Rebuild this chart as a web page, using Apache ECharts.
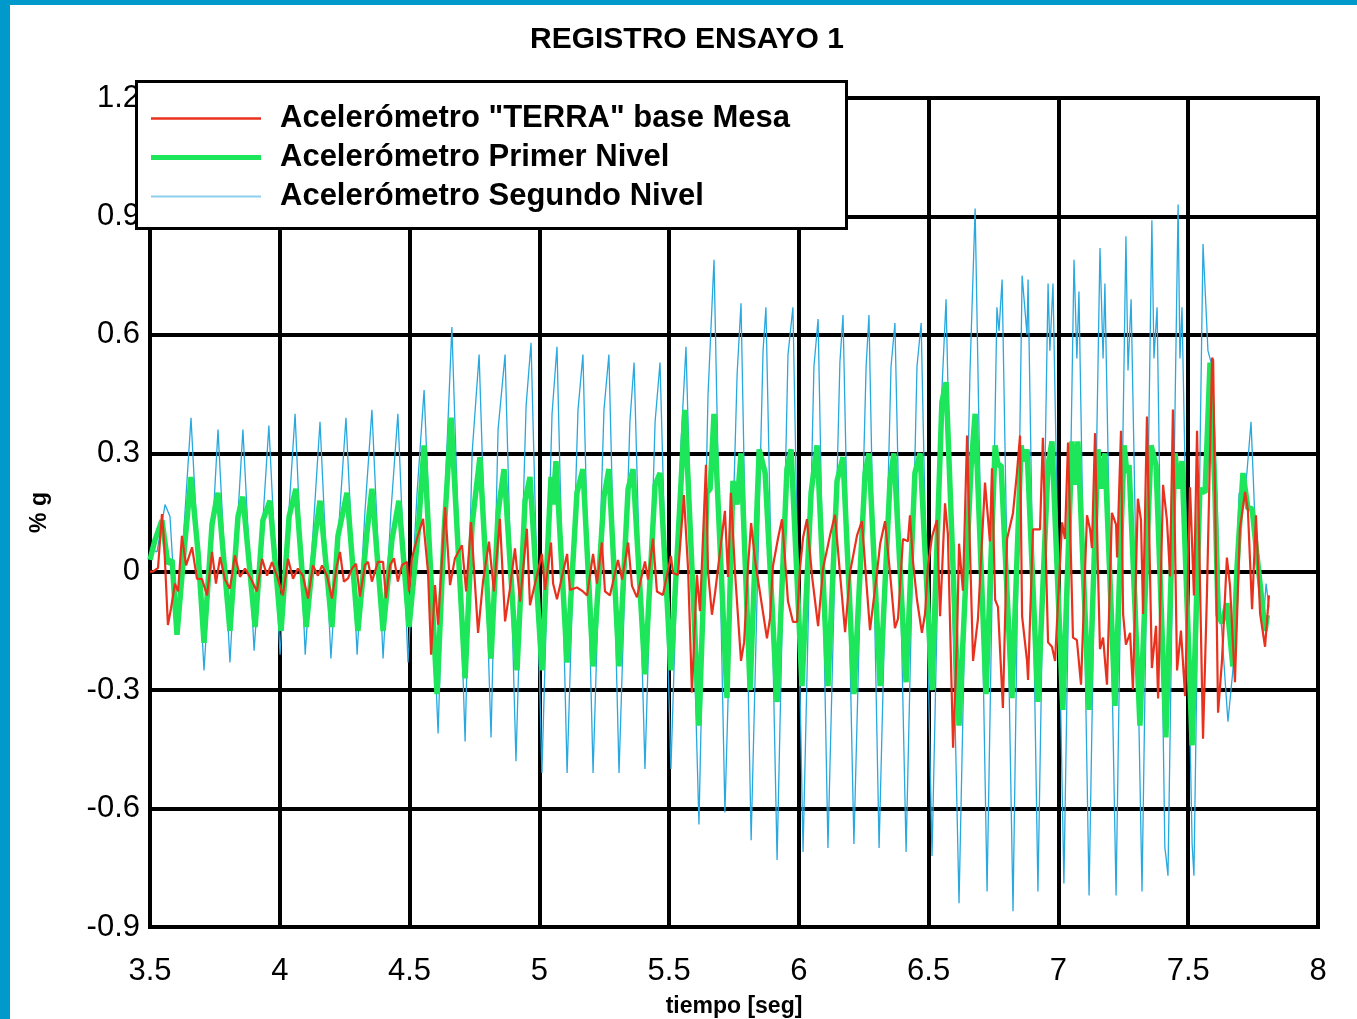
<!DOCTYPE html>
<html>
<head>
<meta charset="utf-8">
<script src="https://cdn.jsdelivr.net/npm/echarts@6/dist/echarts.min.js"></script>
<style>
html,body{margin:0;padding:0;background:#fff;}
#chart{width:1357px;height:1019px;}
</style>
</head>
<body>
<div id="chart"></div>
<script>
const seriesNames = ['Acelerómetro "TERRA" base Mesa', 'Acelerómetro Primer Nivel', 'Acelerómetro Segundo Nivel'];
const xTicks = { min: 3.5, max: 8, interval: 0.5 };
const yTicks = { min: -0.9, max: 1.2, interval: 0.3 };

// [tiempo (s), aceleración (%g)]
const terraBase = [
[3.500,0],[3.512,0],[3.531,0.01],[3.546,0.146],[3.554,0.08],[3.569,-0.135],[3.581,-0.093],[3.596,-0.03],[3.608,-0.05],
[3.623,0.091],[3.639,0.016],[3.662,0.062],[3.681,-0.018],[3.700,-0.018],[3.720,-0.06],[3.739,0.05],[3.754,-0.03],
[3.770,0.037],[3.789,-0.02],[3.808,-0.043],[3.827,0.041],[3.847,-0.013],[3.866,0.008],[3.889,-0.018],[3.912,-0.05],
[3.932,0.033],[3.951,-0.01],[3.970,0.024],[3.989,-0.01],[4.012,-0.06],[4.032,0.033],[4.051,-0.018],[4.070,0.008],
[4.089,-0.01],[4.109,-0.068],[4.128,0.016],[4.147,-0.01],[4.163,0.016],[4.182,-0.01],[4.201,-0.068],[4.220,0.016],
[4.232,0.05],[4.247,-0.025],[4.263,-0.017],[4.278,0.008],[4.294,0.02],[4.309,-0.063],[4.328,0.017],[4.340,0.025],
[4.355,-0.025],[4.378,0.025],[4.398,0.025],[4.409,-0.067],[4.425,0.017],[4.440,0.034],[4.455,-0.025],[4.471,0.017],
[4.490,0.025],[4.498,-0.05],[4.509,0.034],[4.529,0.084],[4.552,0.134],[4.571,0],[4.583,-0.21],[4.598,-0.034],
[4.610,-0.134],[4.637,0.164],[4.656,-0.034],[4.675,0.034],[4.702,0.067],[4.718,-0.05],[4.737,0.126],[4.764,-0.155],
[4.783,-0.025],[4.806,0.076],[4.825,-0.05],[4.848,0.134],[4.868,-0.126],[4.887,-0.042],[4.906,0.059],[4.926,-0.076],
[4.952,0.109],[4.964,-0.085],[5.010,0.045],[5.022,-0.046],[5.045,0.074],[5.053,-0.03],[5.068,-0.07],[5.107,0.045],
[5.118,-0.046],[5.145,-0.04],[5.168,-0.05],[5.184,-0.06],[5.207,0.045],[5.222,-0.03],[5.241,0.074],[5.253,-0.05],
[5.272,-0.06],[5.303,0.03],[5.319,-0.02],[5.342,0.074],[5.357,-0.036],[5.376,-0.065],[5.407,0.026],[5.419,-0.02],
[5.438,0.084],[5.453,-0.05],[5.476,-0.059],[5.507,0.04],[5.515,-0.003],[5.534,-0.008],[5.557,0.194],[5.573,0.007],
[5.588,-0.306],[5.607,-0.008],[5.619,-0.1],[5.642,0.271],[5.650,0],[5.665,-0.109],[5.677,-0.054],[5.715,0.154],
[5.727,-0.013],[5.738,0.2],[5.754,-0.002],[5.777,-0.226],[5.789,-0.179],[5.804,0.013],[5.816,0.123],[5.831,0.029],
[5.877,-0.169],[5.889,-0.117],[5.900,0.014],[5.920,0.086],[5.935,0.133],[5.947,0.029],[5.958,-0.075],[5.977,-0.127],
[5.993,-0.127],[6.004,0.008],[6.016,0.086],[6.031,0.133],[6.051,-0.013],[6.074,-0.138],[6.093,0.008],[6.120,0.092],
[6.139,0.144],[6.158,-0.002],[6.178,-0.153],[6.197,-0.002],[6.224,0.092],[6.243,0.128],[6.262,-0.044],[6.274,-0.148],
[6.301,-0.002],[6.313,0.07],[6.332,0.128],[6.351,-0.002],[6.370,-0.143],[6.382,-0.119],[6.401,0.083],[6.420,0.077],
[6.428,0.143],[6.440,0.024],[6.455,-0.071],[6.474,-0.155],[6.486,-0.107],[6.497,0.012],[6.513,0.089],[6.532,0.131],
[6.544,-0.113],[6.563,0.173],[6.574,0.095],[6.594,-0.446],[6.609,-0.179],[6.617,0.071],[6.632,-0.048],[6.648,0.345],
[6.659,0.06],[6.671,-0.226],[6.690,-0.119],[6.717,0.226],[6.736,0.077],[6.744,0.262],[6.756,-0.071],[6.767,-0.089],
[6.786,-0.345],[6.802,0.083],[6.825,0.149],[6.840,0.25],[6.852,0.345],[6.860,-0.113],[6.879,-0.226],[6.883,-0.274],
[6.902,0.107],[6.929,0.107],[6.940,0.339],[6.960,-0.179],[6.975,-0.19],[6.987,-0.226],[7.014,0.125],[7.025,0.083],
[7.037,0.327],[7.056,-0.167],[7.071,-0.173],[7.087,-0.286],[7.110,0.143],[7.122,0.107],[7.129,0.06],[7.141,0.351],
[7.152,0.012],[7.160,-0.196],[7.172,-0.167],[7.187,-0.286],[7.206,0.149],[7.222,0.119],[7.226,0.036],[7.241,0.357],
[7.249,-0.107],[7.260,-0.185],[7.276,-0.155],[7.287,-0.298],[7.306,0.185],[7.318,0.131],[7.326,-0.107],[7.341,0.393],
[7.360,-0.244],[7.376,-0.137],[7.384,-0.321],[7.403,0.22],[7.418,0.131],[7.430,-0.012],[7.441,0.411],[7.457,-0.25],
[7.472,-0.149],[7.488,-0.315],[7.507,0.214],[7.522,-0.06],[7.534,0.357],[7.557,-0.423],[7.572,-0.06],[7.592,0.542],
[7.596,0.536],[7.615,-0.357],[7.630,-0.226],[7.649,0.036],[7.661,-0.036],[7.680,-0.28],[7.699,0.107],[7.719,0.202],
[7.730,0.155],[7.746,-0.095],[7.761,0.143],[7.777,-0.107],[7.796,-0.19],[7.811,-0.06]
];

const primerNivel = [
[3.500,0.03],[3.519,0.08],[3.546,0.13],[3.569,0.02],[3.585,0.03],[3.604,-0.16],[3.631,0.05],[3.658,0.24],[3.685,0.05],[3.708,-0.18],
[3.739,0.12],[3.750,0.16],[3.762,0.20],[3.808,-0.15],
[3.839,0.14],[3.858,0.19],[3.905,-0.14],
[3.935,0.13],[3.962,0.18],[4.005,-0.15],
[4.036,0.14],[4.062,0.21],[4.102,-0.14],
[4.136,0.09],[4.155,0.18],[4.201,-0.14],
[4.224,0.09],[4.259,0.20],[4.301,-0.15],
[4.336,0.10],[4.355,0.21],[4.398,-0.15],
[4.432,0.08],[4.459,0.18],[4.498,-0.14],
[4.533,0.10],[4.556,0.32],[4.606,-0.31],
[4.633,0.10],[4.660,0.39],[4.714,-0.27],
[4.741,0.12],[4.771,0.29],[4.814,-0.22],
[4.841,0.15],[4.864,0.26],[4.914,-0.25],
[4.945,0.18],[4.964,0.24],[5.010,-0.25],
[5.045,0.24],[5.053,0.17],[5.064,0.28],[5.107,-0.23],
[5.145,0.20],[5.168,0.26],[5.207,-0.24],
[5.249,0.19],[5.268,0.26],[5.307,-0.24],
[5.342,0.21],[5.361,0.26],[5.407,-0.26],
[5.446,0.22],[5.465,0.25],[5.507,-0.25],
[5.561,0.41],[5.615,-0.39],
[5.646,0.20],[5.658,0.21],[5.673,0.40],[5.723,-0.32],
[5.746,0.23],[5.762,0.17],[5.777,0.30],[5.812,-0.30],
[5.847,0.31],[5.870,0.25],[5.916,-0.33],
[5.954,0.26],[5.970,0.31],[6.012,-0.29],
[6.047,0.20],[6.070,0.32],[6.112,-0.29],
[6.147,0.23],[6.170,0.29],[6.212,-0.31],
[6.255,0.25],[6.270,0.30],[6.313,-0.29],
[6.351,0.23],[6.366,0.30],[6.413,-0.28],
[6.447,0.25],[6.467,0.30],[6.513,-0.30],
[6.551,0.43],[6.567,0.48],[6.617,-0.39],
[6.663,0.26],[6.679,0.40],[6.721,-0.31],
[6.756,0.32],[6.767,0.27],[6.779,0.27],[6.821,-0.32],
[6.856,0.32],[6.867,0.28],[6.879,0.31],[6.921,-0.33],
[6.960,0.27],[6.975,0.33],[7.017,-0.35],
[7.052,0.33],[7.064,0.22],[7.075,0.33],[7.118,-0.35],
[7.152,0.31],[7.168,0.21],[7.179,0.30],[7.218,-0.34],
[7.253,0.32],[7.264,0.25],[7.272,0.27],[7.314,-0.39],
[7.357,0.32],[7.376,0.27],[7.414,-0.42],
[7.449,0.30],[7.464,0.21],[7.476,0.28],[7.515,-0.44],
[7.545,0.21],[7.565,0.20],[7.584,0.53],[7.603,0.20],[7.615,-0.11],[7.630,-0.13],[7.649,-0.08],[7.672,-0.24],
[7.688,0.01],[7.699,0.13],[7.711,0.25],[7.730,0.16],[7.746,0.16],[7.765,0.04],[7.785,-0.08],[7.796,-0.15],[7.805,-0.11]
];

const segundoNivel = [
[3.500,0.06],[3.527,0.05],[3.558,0.17],[3.577,0.14],[3.604,-0.16],[3.627,0.07],[3.658,0.39],[3.708,-0.25],
[3.739,0.08],[3.762,0.36],[3.808,-0.23],
[3.835,0.10],[3.858,0.36],[3.901,-0.20],
[3.932,0.10],[3.958,0.37],[4.001,-0.21],
[4.032,0.12],[4.059,0.40],[4.098,-0.21],
[4.128,0.10],[4.155,0.38],[4.197,-0.22],
[4.228,0.12],[4.255,0.39],[4.298,-0.21],
[4.328,0.15],[4.355,0.41],[4.398,-0.22],
[4.428,0.15],[4.455,0.40],[4.494,-0.23],
[4.529,0.20],[4.556,0.46],[4.610,-0.41],
[4.640,0.25],[4.663,0.62],[4.714,-0.43],
[4.741,0.30],[4.768,0.55],[4.814,-0.42],
[4.841,0.36],[4.868,0.55],[4.910,-0.48],
[4.949,0.42],[4.968,0.58],[5.010,-0.51],
[5.049,0.40],[5.068,0.57],[5.107,-0.51],
[5.149,0.41],[5.168,0.55],[5.207,-0.51],
[5.249,0.41],[5.268,0.55],[5.307,-0.51],
[5.349,0.38],[5.365,0.53],[5.407,-0.50],
[5.446,0.38],[5.465,0.53],[5.507,-0.50],
[5.546,0.33],[5.565,0.57],[5.615,-0.64],
[5.650,0.45],[5.673,0.79],[5.715,-0.61],
[5.762,0.50],[5.777,0.68],[5.816,-0.68],
[5.862,0.56],[5.873,0.67],[5.916,-0.73],
[5.958,0.55],[5.977,0.67],[6.016,-0.71],
[6.058,0.52],[6.074,0.64],[6.112,-0.70],
[6.158,0.53],[6.170,0.65],[6.212,-0.69],
[6.259,0.52],[6.270,0.65],[6.309,-0.70],
[6.355,0.52],[6.370,0.63],[6.413,-0.71],
[6.455,0.52],[6.471,0.63],[6.513,-0.72],
[6.551,0.46],[6.567,0.69],[6.617,-0.84],
[6.659,0.50],[6.679,0.92],[6.725,-0.81],
[6.763,0.67],[6.771,0.61],[6.783,0.74],[6.825,-0.86],
[6.860,0.75],[6.879,0.60],[6.883,0.74],[6.921,-0.81],
[6.960,0.73],[6.967,0.56],[6.979,0.73],[7.021,-0.79],
[7.060,0.79],[7.071,0.54],[7.079,0.71],[7.118,-0.82],
[7.160,0.82],[7.172,0.54],[7.179,0.73],[7.222,-0.82],
[7.260,0.85],[7.268,0.51],[7.280,0.69],[7.322,-0.81],
[7.360,0.89],[7.368,0.54],[7.380,0.67],[7.410,-0.70],[7.414,-0.72],[7.422,-0.77],
[7.461,0.93],[7.468,0.54],[7.476,0.67],[7.515,-0.69],[7.522,-0.77],
[7.557,0.83],[7.576,0.56],[7.592,0.52],[7.611,0.18],[7.622,-0.08],[7.653,-0.38],[7.672,-0.25],[7.696,0.20],
[7.711,0.17],[7.726,0.25],[7.742,0.38],[7.757,0.13],[7.777,-0.08],[7.789,-0.13],[7.800,-0.03],[7.811,-0.09]
];

const FONT = '"Liberation Sans", Arial, Helvetica, sans-serif';
const chart = echarts.init(document.getElementById('chart'), null, { renderer: 'canvas' });

const fmt1 = v => { const r = Math.round(v * 10) / 10; return (r === 0 ? 0 : r).toString(); };

chart.setOption({
  backgroundColor: '#ffffff',
  animation: false,
  title: {
    text: 'REGISTRO ENSAYO 1',
    left: 525, top: 20,
    textStyle: { fontFamily: FONT, fontSize: 30, fontWeight: 'bold', color: '#000' }
  },
  grid: {
    left: 150, right: 39, top: 98, bottom: 92,
    outerBoundsMode: 'none',
    containLabel: false,
    show: true, borderColor: '#000', borderWidth: 4, backgroundColor: '#fff'
  },
  legend: {
    orient: 'vertical',
    left: 151, top: 103,
    padding: 0,
    itemGap: 8,
    itemWidth: 110, itemHeight: 14,
    z: 20,
    selectedMode: false,
    textStyle: { fontFamily: FONT, fontSize: 31, fontWeight: 'bold', color: '#000', lineHeight: 31, padding: [0, 0, 0, 14] },
    data: [
      { name: seriesNames[0], icon: 'path://M0,0L110,0L110,2.5L0,2.5Z', itemStyle: { color: '#e8321e' } },
      { name: seriesNames[1], icon: 'path://M0,0L110,0L110,5L0,5Z', itemStyle: { color: '#1ee65a' } },
      { name: seriesNames[2], icon: 'path://M0,0L110,0L110,2L0,2Z', itemStyle: { color: '#8ccfee' } }
    ]
  },
  graphic: [
    { type: 'rect', z: 15, shape: { x: 136.5, y: 81.5, width: 710, height: 147 }, style: { fill: '#fff', stroke: '#000', lineWidth: 3 } },
    { type: 'rect', z: 100, shape: { x: 0, y: 0, width: 10, height: 1019 }, style: { fill: '#0099cc' } },
    { type: 'rect', z: 100, shape: { x: 0, y: 0, width: 1357, height: 5 }, style: { fill: '#0099cc' } }
  ],
  xAxis: {
    type: 'value',
    min: xTicks.min, max: xTicks.max, interval: xTicks.interval,
    name: 'tiempo [seg]',
    nameLocation: 'middle', nameGap: 68,
    nameTextStyle: { fontFamily: FONT, fontSize: 23, fontWeight: 'bold', color: '#000' },
    axisLine: { show: true, lineStyle: { color: '#000', width: 4 } },
    axisTick: { show: false },
    axisLabel: { fontFamily: FONT, fontSize: 31, color: '#000', margin: 29, formatter: v => fmt1(v) },
    splitLine: { show: true, lineStyle: { color: '#000', width: 4 } }
  },
  yAxis: {
    type: 'value',
    min: yTicks.min, max: yTicks.max, interval: yTicks.interval,
    name: '% g',
    nameLocation: 'middle', nameGap: 99, nameRotate: 90,
    nameTextStyle: { fontFamily: FONT, fontSize: 23, fontWeight: 'bold', color: '#000' },
    axisLine: { show: true, lineStyle: { color: '#000', width: 4 } },
    axisTick: { show: false },
    axisLabel: { fontFamily: FONT, fontSize: 31, color: '#000', margin: 10, formatter: v => fmt1(v) },
    splitLine: { show: true, lineStyle: { color: '#000', width: 4 } }
  },
  series: [
    {
      name: seriesNames[2], type: 'line', data: segundoNivel, showSymbol: false, symbol: 'none', z: 2,
      lineStyle: { color: '#27a8de', width: 1.3 }, itemStyle: { color: '#27a8de' }
    },
    {
      name: seriesNames[1], type: 'line', data: primerNivel, showSymbol: false, symbol: 'none', z: 3,
      lineStyle: { color: '#1ee65a', width: 5.5 }, itemStyle: { color: '#1ee65a' }
    },
    {
      name: seriesNames[0], type: 'line', data: terraBase, showSymbol: false, symbol: 'none', z: 4,
      lineStyle: { color: '#e8321e', width: 2.2 }, itemStyle: { color: '#e8321e' }
    }
  ]
});
</script>
</body>
</html>
